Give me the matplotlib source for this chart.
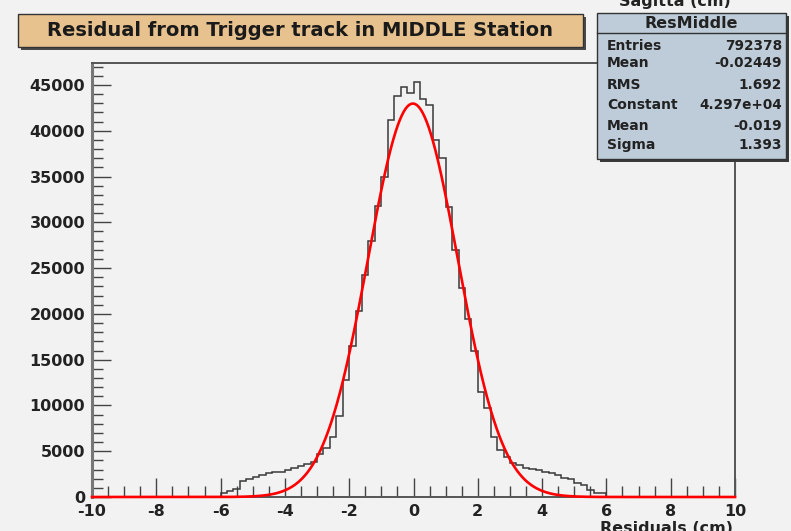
import numpy as np
import matplotlib as mpl
mpl.use("Agg")
import matplotlib.pyplot as plt
from matplotlib.patches import Rectangle

mpl.rcParams.update({
    "font.family": ["DejaVu Sans"], "font.weight": "bold",
})

# ---------------------------------------------------------------- data
bin_lo, bin_hi, nbins = -10.0, 10.0, 100
# counts per 0.2 cm bin, from -6 to +6 (everything else is empty)
counts_core = [
    470, 690, 870, 1750, 1930, 2150, 2400, 2580, 2770, 2770,
    2950, 3130, 3390, 3570, 3860, 4700, 5300, 6600, 8900, 12800,
    16500, 20300, 24200, 28000, 31800, 34900, 41160, 43800, 44800, 44070,
    45300, 43500, 42800, 39000, 36970, 31700, 27000, 22800, 19400, 15900,
    11500, 9700, 6600, 5130, 4400, 3680, 3480, 3200, 3020, 2950,
    2730, 2660, 2400, 2110, 1930, 1570, 1310, 760, 470, 400,
]
n_empty = 20
counts = [0] * n_empty + counts_core + [0] * n_empty

# gaussian fit parameters shown in the stats box
fit_const, fit_mean, fit_sigma = 4.297e4, -0.019, 1.393

stats_labels = ["Entries", "Mean", "RMS", "Constant", "Mean", "Sigma"]
stats_values = ["792378", "-0.02449", "1.692", "4.297e+04", "-0.019", "1.393"]

yticks = [0, 5000, 10000, 15000, 20000, 25000, 30000, 35000, 40000, 45000]
xticks = [-10, -8, -6, -4, -2, 0, 2, 4, 6, 8, 10]

# ---------------------------------------------------------------- figure
W, H = 791, 531
BG = "#f2f2f2"
fig = plt.figure(figsize=(W / 100, H / 100), dpi=100, facecolor=BG)

L, R, T, B = 92, 735, 63, 497
ax = fig.add_axes([L / W, 1 - B / H, (R - L) / W, (B - T) / H])
ax.set_facecolor(BG)

edges = np.linspace(bin_lo, bin_hi, nbins + 1)
ax.stairs(counts, edges, color="#3a3a3a", lw=1.1, zorder=3)

xf = np.linspace(bin_lo, bin_hi, 1000)
yf = fit_const * np.exp(-0.5 * ((xf - fit_mean) / fit_sigma) ** 2)
ax.plot(xf, yf, color="#ff0000", lw=1.9, zorder=4, clip_on=False)

ax.set_xlim(bin_lo, bin_hi)
ax.set_ylim(0, 47400)
ax.set_xticks(xticks)
ax.set_xticks(np.arange(-10, 10.01, 0.5), minor=True)
ax.set_yticks(yticks)
ax.set_yticks(np.arange(0, 47001, 1000), minor=True)
ax.set_xticklabels([str(v) for v in xticks])
ax.set_yticklabels([str(v) for v in yticks])
ax.tick_params(which="both", direction="in", color="#444", width=1.0,
               top=False, right=False, labelsize=11.5)
ax.tick_params(which="major", length=14)
ax.tick_params(which="minor", length=8)
ax.tick_params(axis="x", pad=5)
ax.tick_params(axis="y", pad=5)
for lab in ax.get_xticklabels() + ax.get_yticklabels():
    lab.set_fontweight("bold")
    lab.set_color("#222")
for s in ax.spines.values():
    s.set_color("#555")
    s.set_linewidth(1.4)
ax.spines["left"].set_linewidth(2.2)
ax.spines["left"].set_color("#777")

# ---------------------------------------------------------------- overlay (pixel coords)
ov = fig.add_axes([0, 0, 1, 1], zorder=10)
ov.set_xlim(0, W)
ov.set_ylim(H, 0)
ov.axis("off")
ov.patch.set_alpha(0)

# title box
ov.add_patch(Rectangle((21, 17), 565, 33, facecolor="#4a4a4a", edgecolor="none"))
ov.add_patch(Rectangle((18, 14), 565, 33, facecolor="#e8c28e", edgecolor="#333", lw=1.0))
ov.text(300, 31, "Residual from Trigger track in MIDDLE Station", ha="center", va="center",
        fontsize=14, fontweight="bold", color="#1a1a1a")

# stats box
sx, sy, sw, sh = 597, 13, 189, 146
ov.add_patch(Rectangle((sx + 3, sy + 3), sw, sh, facecolor="#3a3a3a", edgecolor="none"))
ov.add_patch(Rectangle((sx, sy), sw, sh, facecolor="#bdccd8", edgecolor="#333", lw=1.0))
ov.plot([sx, sx + sw], [33, 33], color="#333", lw=1.0)
ov.text(sx + sw / 2, 24, "ResMiddle", ha="center", va="center", fontsize=11.5,
        fontweight="bold", color="#222")
row_y = [46, 63, 85, 105, 126, 145]
for yy, lab, val in zip(row_y, stats_labels, stats_values):
    ov.text(sx + 10, yy, lab, ha="left", va="center", fontsize=10, fontweight="bold", color="#222")
    ov.text(sx + sw - 4, yy, val, ha="right", va="center", fontsize=9.8, fontweight="bold", color="#222")

# cut-off axis titles
ov.text(675, 6, "Sagitta (cm)", ha="center", va="baseline", fontsize=11.5,
        fontweight="bold", color="#222")
ov.text(733, 521, "Residuals (cm)", ha="right", va="top", fontsize=11.5,
        fontweight="bold", color="#222")

fig.savefig("out.png", dpi=100, facecolor=BG)
